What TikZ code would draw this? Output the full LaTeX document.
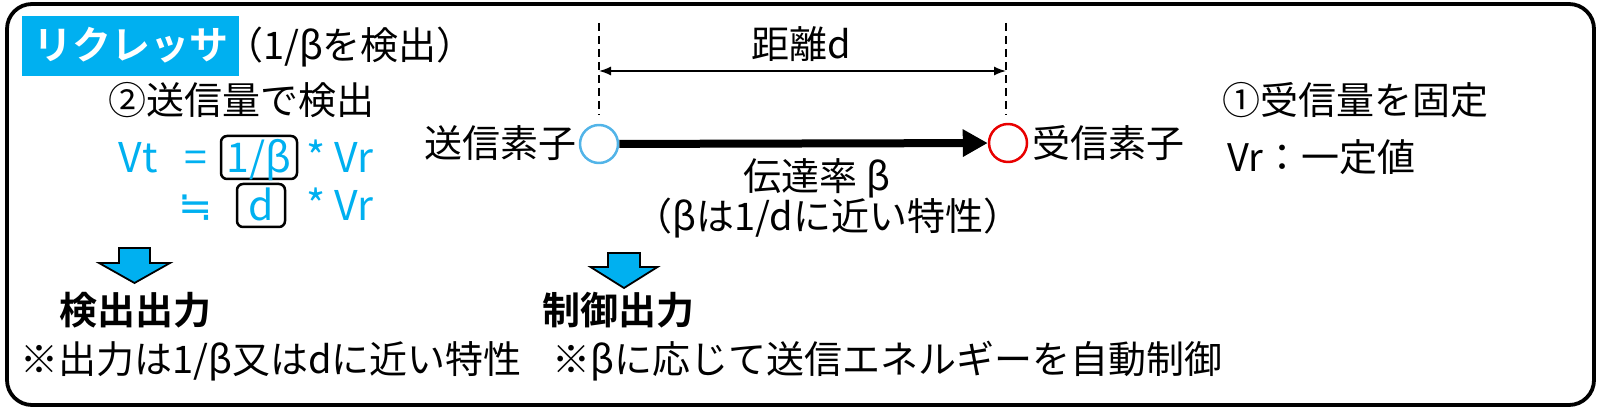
\documentclass[tikz,border=0pt]{standalone}
\usepackage{fontspec}
\setmainfont{Noto Sans CJK JP}[BoldFont={* Bold}]
\newfontfamily\symfont{DejaVu Sans}
\usepackage{tikz}
\usepackage{xcolor}
\usetikzlibrary{arrows.meta}
\definecolor{rqcyan}{RGB}{0,176,240}
\definecolor{txblue}{RGB}{82,180,232}
\definecolor{rxred}{RGB}{232,0,0}
\begin{document}
\begin{tikzpicture}[line cap=round,line join=round,x=0.5pt,y=-0.5pt,
        font=\fontsize{19pt}{23pt}\selectfont,
        every node/.style={inner sep=0pt,text height=15pt,text depth=1pt},
        frm/.style={text=rqcyan,font=\fontsize{20.5pt}{24pt}\selectfont,text height=16pt,text depth=1pt},
        fbox/.style={draw=black,line width=1.25pt,rounded corners=3pt,minimum height=21.5pt},
        elem/.style={circle,draw,line width=1.25pt,minimum size=19pt,fill=white},
        downarrow/.style={draw=black,line width=0.9pt,fill=rqcyan,line join=miter}]
                \useasboundingbox (0,0) rectangle (1599,416);
                \draw [line width=1.9pt,rounded corners=12.5pt] (7,4) rectangle (1594,405);
                \node [fill=rqcyan,text=white,font=\fontsize{19.5pt}{23pt}\selectfont\bfseries,minimum width=108.5pt,minimum height=30pt] (title) at (130.5,46) {リクレッサ};
                \node (titlesub) at (350,46) {（1/βを検出）};
                \node (step2) at (241,101) {②送信量で検出};
                \node [frm] (vt) at (138,158) {Vt};
                \node [frm] (eq) at (196,158) {=};
                \node [frm,fbox,minimum width=38pt] (invbeta) at (259,157.5) {1/β};
                \node [frm] (vr1) at (340,158) {* Vr};
                \node [frm] (approx) at (196,206) {\symfont ≒};
                \node [frm,fbox,minimum width=24pt] (dist) at (261,205.5) {d};
                \node [frm] (vr2) at (340,206) {* Vr};
                \draw [downarrow] (119,248) -- (150,248) -- (150,263) -- (170,263) -- (134.5,283) -- (99,263) -- (119,263) -- cycle;
                \draw [downarrow] (608,253) -- (640,253) -- (640,267) -- (657.5,267) -- (624,288) -- (590.5,267) -- (608,267) -- cycle;
                \node [font=\fontsize{19pt}{23pt}\selectfont\bfseries] (detout) at (135,311) {検出出力};
                \node [font=\fontsize{19pt}{23pt}\selectfont\bfseries] (ctrlout) at (618,311) {制御出力};
                \node [anchor=west] (detnote) at (20,359) {※出力は1/β又はdに近い特性};
                \node [anchor=west] (ctrlnote) at (552,359) {※βに応じて送信エネルギーを自動制御};
                \coordinate (dtop1) at (599,23);
                \coordinate (dbot1) at (599,115);
                \coordinate (dtop2) at (1006,23);
                \coordinate (dbot2) at (1006,115);
                \draw [line width=0.75pt,line cap=butt,dash pattern=on 4pt off 2.5pt] (dtop1) -- (dbot1);
                \draw [line width=0.75pt,line cap=butt,dash pattern=on 4pt off 2.5pt] (dtop2) -- (dbot2);
                \coordinate (dleft) at (599,71);
                \coordinate (dright) at (1006,71);
                \draw [line width=0.75pt,{Latex[length=6pt,width=4.5pt]}-{Latex[length=6pt,width=4.5pt]}] (dleft) -- (dright);
                \node (distlbl) at (801,45) {距離d};
                \node [elem,draw=txblue] (tx) at (599,144) {};
                \node [elem,draw=rxred] (rx) at (1008,143) {};
                \draw [line width=4pt,line cap=butt,-{Triangle[length=12.5pt,width=13pt]}] (tx) -- (rx);
                \node [anchor=east] (txlbl) at (577,144) {送信素子};
                \node [anchor=west] (rxlbl) at (1032,144) {受信素子};
                \node (ratelbl) at (817,177) {伝達率 β};
                \node (ratenote) at (828,217) {（βは1/dに近い特性）};
                \node [anchor=west] (step1) at (1222,101) {①受信量を固定};
                \node [anchor=west] (vrfix) at (1227,158) {Vr：一定値};
\end{tikzpicture}
\end{document}
